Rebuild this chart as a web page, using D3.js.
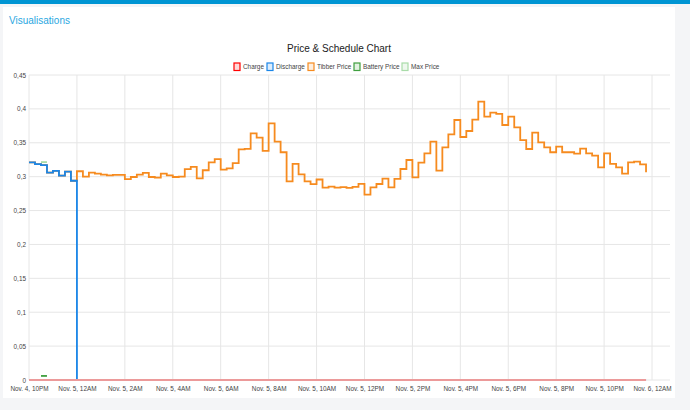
<!DOCTYPE html>
<html>
<head>
<meta charset="utf-8">
<script src="https://cdn.jsdelivr.net/npm/d3@7"></script>
<style>
  body { margin: 0; background: #f4f5f7; font-family: "Liberation Sans", Arial, sans-serif; }
</style>
</head>
<body>
<svg id="visualization"></svg>
<script>
// quarter-hour slots starting Nov 4, 10PM
var startTime = new Date(2024, 10, 4, 22, 0)
var endTime = new Date(2024, 10, 6, 0, 45)

var charge = [0,0,0,0,0,0,0,0,
  0,0,0,0,0,0,0,0,0,0,0,0,0,0,0,0,
  0,0,0,0,0,0,0,0,0,0,0,0,0,0,0,0,
  0,0,0,0,0,0,0,0,0,0,0,0,0,0,0,0,
  0,0,0,0,0,0,0,0,0,0,0,0,0,0,0,0,
  0,0,0,0,0,0,0,0,0,0,0,0,0,0,0,0,
  0,0,0,0,0,0,0,0,0,0,0,0,0,0,0,0]

var discharge = [0.321, 0.3185, 0.317, 0.306, 0.3085, 0.3015, 0.3075, 0.294,
  0,0,0,0,0,0,0,0,0,0,0,0,0,0,0,0,
  0,0,0,0,0,0,0,0,0,0,0,0,0,0,0,0,
  0,0,0,0,0,0,0,0,0,0,0,0,0,0,0,0,
  0,0,0,0,0,0,0,0,0,0,0,0,0,0,0,0,
  0,0,0,0,0,0,0,0,0,0,0,0,0,0,0,0,
  0,0,0,0,0,0,0,0,0,0,0,0,0,0,0,0]

var tibber = [0.321, 0.3185, 0.317, 0.306, 0.3085, 0.3015, 0.3075, 0.294,
  0.308, 0.300, 0.306, 0.3045, 0.303, 0.302, 0.3025, 0.3025, 0.2965, 0.2995, 0.303, 0.3055,
  0.2995, 0.2985, 0.3045, 0.302, 0.2995, 0.300, 0.311, 0.3145, 0.2975, 0.3095, 0.321, 0.326,
  0.3105, 0.3122, 0.320, 0.3403, 0.341, 0.364, 0.3575, 0.338, 0.3787, 0.3516, 0.336, 0.293,
  0.319, 0.3035, 0.293, 0.289, 0.2958, 0.2837, 0.2852, 0.2837, 0.2847, 0.2835, 0.2848, 0.2895,
  0.2735, 0.2843, 0.2892, 0.297, 0.2843, 0.2966, 0.3113, 0.3246, 0.299, 0.3206, 0.3344, 0.3516,
  0.3088, 0.3433, 0.3625, 0.3836, 0.3585, 0.3674, 0.3841, 0.4106, 0.3885, 0.3944, 0.3925, 0.3762,
  0.3885, 0.3728, 0.354, 0.3408, 0.365, 0.3507, 0.3433, 0.336, 0.3443, 0.336, 0.336, 0.334,
  0.3413, 0.3345, 0.331, 0.3138, 0.3345, 0.319, 0.3138, 0.3044, 0.3211, 0.3221, 0.318, 0.3064]

var battery = [null, null, 0.006, 0.006]
var maxPrice = [null, null, 0.3215, 0.3215]

var yTicks = [0, 0.05, 0.1, 0.15, 0.2, 0.25, 0.3, 0.35, 0.4, 0.45]

var seriesNames = ["Charge", "Discharge", "Tibber Price", "Battery Price", "Max Price"]

var dimensions = {
    width: 690,
    height: 410,
    margin: { top: 75, bottom: 30, right: 20, left: 29 }
}

var svg = d3.select("#visualization")
            .attr("width", dimensions.width)
            .attr("height", dimensions.height)

// page chrome
svg.append("rect").attr("x", 0).attr("y", 0).attr("width", 690).attr("height", 4).attr("fill", "#0095d3")
svg.append("rect").attr("x", 3).attr("y", 7).attr("width", 672).attr("height", 391).attr("fill", "#ffffff")
svg.append("text").attr("x", 9).attr("y", 24).text("Visualisations")
   .attr("font-size", "10px").attr("fill", "#2aa7df")

svg.append("text").attr("x", 339).attr("y", 52).attr("text-anchor", "middle")
   .text("Price & Schedule Chart").attr("font-size", "10px").attr("fill", "#222")

var colors = {
    "Charge": { line: "#ec9a9a", box: "#ff0000", fill: "rgba(255,0,0,0.15)" },
    "Discharge": { line: "#1a86e8", box: "#1a86e8", fill: "rgba(26,134,232,0.15)" },
    "Tibber Price": { line: "#f68b1f", box: "#f68b1f", fill: "rgba(246,139,31,0.15)" },
    "Battery Price": { line: "#3f9f3f", box: "#3f9f3f", fill: "rgba(63,159,63,0.15)" },
    "Max Price": { line: "#a9dca9", box: "#a9dca9", fill: "rgba(169,220,169,0.2)" }
}

var xScale = d3.scaleTime()
               .domain([startTime, endTime])
               .range([dimensions.margin.left, dimensions.width - dimensions.margin.right])

var yScale = d3.scaleLinear()
               .domain([0, 0.45])
               .range([dimensions.height - dimensions.margin.bottom, dimensions.margin.top])

var xTicks = d3.timeHour.every(2).range(startTime, new Date(2024, 10, 6, 0, 1))
var fmtTime = d3.timeFormat("%b. %-d, %-I%p")
var fmtPrice = v => d3.format(".2~f")(v).replace(".", ",")

// gridlines
var grid = svg.append("g").attr("stroke", "#e6e6e6").attr("stroke-width", 1)
grid.selectAll(".hx").data(yTicks).enter().append("line")
    .attr("x1", xScale.range()[0]).attr("x2", xScale.range()[1])
    .attr("y1", d => yScale(d)).attr("y2", d => yScale(d))
grid.selectAll(".vx").data(xTicks).enter().append("line")
    .attr("x1", d => xScale(d)).attr("x2", d => xScale(d))
    .attr("y1", yScale(0.45)).attr("y2", yScale(0))

// axes
var xAxisGen = d3.axisBottom(xScale).tickValues(xTicks).tickFormat(fmtTime).tickSize(0).tickPadding(6)
var xAxis = svg.append("g")
               .attr("transform", `translate(0,${yScale(0)})`)
               .call(xAxisGen)
xAxis.select(".domain").remove()
xAxis.selectAll("text").attr("font-size", "6.4px").attr("fill", "#444").attr("font-family", "Liberation Sans, Arial, sans-serif")

var yAxisGen = d3.axisLeft(yScale).tickValues(yTicks).tickFormat(fmtPrice).tickSize(0).tickPadding(3)
var yAxis = svg.append("g")
               .attr("transform", `translate(${dimensions.margin.left},0)`)
               .call(yAxisGen)
yAxis.select(".domain").remove()
yAxis.selectAll("text").attr("font-size", "6.4px").attr("fill", "#444").attr("font-family", "Liberation Sans, Arial, sans-serif")

// series
var slot = i => d3.timeMinute.offset(startTime, 15 * i)
var line = d3.line()
             .defined(d => d != null)
             .x((d, i) => xScale(slot(i)))
             .y(d => yScale(d))
             .curve(d3.curveStepAfter)

var plot = svg.append("g").attr("fill", "none")

var drawOrder = [["Max Price", maxPrice], ["Battery Price", battery], ["Tibber Price", tibber], ["Discharge", discharge], ["Charge", charge]]
drawOrder.forEach(function(s) {
    plot.append("path")
        .attr("d", line(s[1]))
        .attr("stroke", colors[s[0]].line)
        .attr("stroke-width", 1.8)
})

// legend
var legendX = [234, 267, 308, 354, 402]
var legend = svg.append("g").selectAll("g").data(seriesNames).enter().append("g")
                .attr("transform", (d, i) => `translate(${legendX[i]},63)`)
legend.append("rect").attr("width", 6).attr("height", 7.5)
      .attr("fill", d => colors[d].fill).attr("stroke", d => colors[d].box).attr("stroke-width", 1.2)
legend.append("text").attr("x", 9).attr("y", 6.3).text(d => d)
      .attr("font-size", "6.4px").attr("fill", "#444")
</script>
</body>
</html>
